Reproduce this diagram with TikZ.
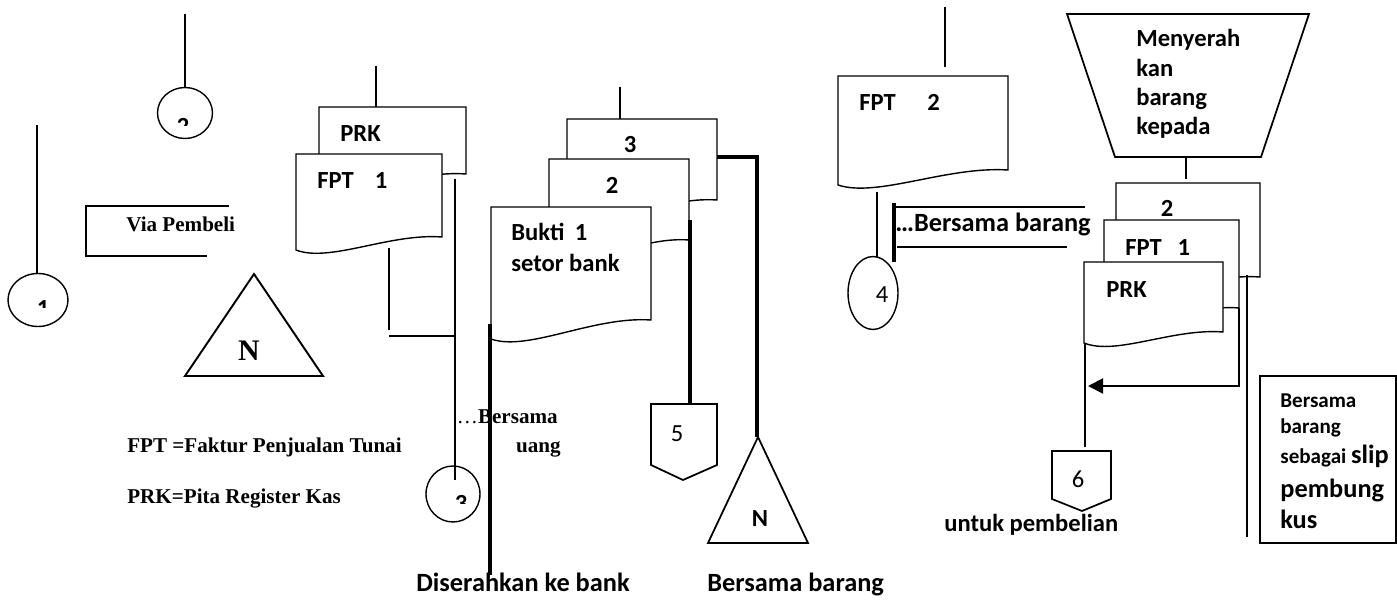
\documentclass[tikz,border=0pt]{standalone}
\usepackage{fontspec}
\setmainfont{Liberation Serif}
\newfontfamily\calibri{Carlito}
\usetikzlibrary{arrows.meta, shapes.geometric}

% document symbol: left, top, right, left bottom, right bottom
\newcommand{\docpath}[5]{%
  \draw[outline, fill=white] (#1,#4) -- (#1,#2) -- (#3,#2) -- (#3,#5)
    .. controls ({#1+0.64*(#3-#1)},{#5-4}) and ({#1+0.23*(#3-#1)},{#4+13}) .. (#1,#4) -- cycle;}
% connector digit, only its top shows
\newcommand{\cutdigit}[4]{%
  \begin{scope}
    \clip (#2-12,#3-1) rectangle (#2+12,#3+8);
    \node[lbl, anchor=north] (#1) at (#2,#3) {#4};
  \end{scope}}

\begin{document}
\begin{tikzpicture}[
  x=0.02cm, y=-0.02cm,
  >={Triangle[length=3mm, width=3mm]},
  outline/.style={line width=0.8pt},
  wire/.style={line width=1.1pt},
  heavy/.style={line width=2pt},
  lbl/.style={font=\calibri\bfseries\fontsize{14}{17}\selectfont, inner sep=0pt},
  lblsm/.style={font=\calibri\bfseries\fontsize{12}{14}\selectfont, inner sep=0pt},
  lblbig/.style={font=\calibri\bfseries\fontsize{15}{18}\selectfont, inner sep=0pt},
  tms/.style={font=\bfseries\fontsize{12}{14}\selectfont, inner sep=0pt},
  digit/.style={font=\calibri\fontsize{14}{17}\selectfont, inner sep=0pt},
  conn/.style={draw, ellipse, outline, inner sep=0pt},
]
\useasboundingbox (0,0) rectangle (1397,601);

% left side
\node[conn, minimum width=1.2cm, minimum height=1.06cm] (c1) at (38,300) {};
\node[conn, minimum width=1.1cm, minimum height=1.02cm] (c2) at (185,113) {};
\coordinate (c1in) at (37,125);
\coordinate (c2in) at (185,14);
\draw[wire] (c1in) -- (c1in |- c1.north);
\draw[wire] (c2in) -- (c2.north);
\cutdigit{d1}{43}{300}{1}
\cutdigit{d2}{183}{118}{2}

\draw[wire] (229,206) -- (86,206) -- (86,256) -- (207,256);
\node[tms, anchor=base west] (via) at (126,232) {Via Pembeli};

\draw[outline, line width=1.1pt] (254,274) -- (185,376) -- (323,376) -- cycle;
\node[tms, font=\bfseries\fontsize{17}{20}\selectfont, anchor=base] (nl) at (249,360) {N};

\node[tms, anchor=base west] (key1) at (127,452) {FPT =Faktur Penjualan Tunai};
\node[tms, anchor=base west] (key2) at (127,503) {PRK=Pita Register Kas};

% PRK / FPT 1
\draw[wire] (376,66) -- (376,107);
\docpath{319}{107}{466}{187}{174}
\docpath{296}{154}{442}{250}{237}
\node[lbl, anchor=base west] (prk) at (340,142) {PRK};
\node[lbl, anchor=base west] (fpt1) at (317,189) {FPT\hspace{12pt}1};

\draw[wire] (389,248) -- (389,330);
\draw[wire] (389,336) -- (455,336);
\draw[wire] (455,179) -- (455,480);
\node[conn, minimum width=1.08cm, minimum height=1.12cm] (c3) at (453,494) {};
\cutdigit{d3}{461}{495}{3}

\node[tms, anchor=base east] (uang1) at (558,423) {\normalfont\fontsize{12}{14}\selectfont…\bfseries Bersama};
\node[tms, anchor=base east] (uang2) at (561,452) {uang};

% Bukti setor bank
\draw[wire] (620,87) -- (620,119);
\docpath{567}{119}{717}{219}{200}
\docpath{549}{159}{689}{259}{240}
\docpath{491}{207}{651}{339}{320}
\node[lbl, anchor=base] (b3) at (630,153) {3};
\node[lbl, anchor=base] (b2) at (612,194) {2};
\node[lbl, anchor=base west] (b1) at (511,241) {Bukti\hspace{6pt}1};
\node[lbl, anchor=base west] (b1b) at (511,272) {setor bank};

\draw[heavy] (490,324) -- (490,575);
\node[lblbig, anchor=base west] (bank) at (416,591) {Diserahkan ke bank};

\draw[heavy] (690,220) -- (690,404);
\draw[outline, line width=1pt] (651,404) -- (717,404) -- (717,465) -- (683,480) -- (651,465) -- cycle;
\node[digit, anchor=base] (n5) at (677,441) {5};

\draw[heavy] (717,157) -- (757,157) -- (757,437);
\draw[outline, line width=1pt] (758,437) -- (708,543) -- (808,543) -- cycle;
\node[lbl, anchor=base] (nr) at (760,526) {N};
\node[lblbig, anchor=base west] (brg) at (707,591) {Bersama barang};

% FPT 2
\draw[wire] (945,7) -- (945,67);
\docpath{838}{76}{1008}{185}{170}
\node[lbl, anchor=base west] (fpt2) at (859,111) {FPT\hspace{18pt}2};
\node[conn, minimum width=1.0cm, minimum height=1.46cm] (c4) at (873,293) {};
\draw[wire] (877,192) -- (877,257);
\node[digit, anchor=base] (d4) at (882,303) {4};

\draw[heavy] (894,203) -- (894,262);
\draw[wire] (894,207) -- (1085,207);
\draw[wire] (897,247) -- (1067,247);
\node[lblbig, anchor=base west] (brg2) at (895,232) {…Bersama barang};

% manual operation and copies
\draw[outline, line width=1pt] (1067,14) -- (1309,14) -- (1261,157) -- (1115,157) -- cycle;
\node[lbl, anchor=base west] (serah) at (1136,47) {Menyerah};
\node[lbl, anchor=base west] (serah2) at (1136,77) {kan};
\node[lbl, anchor=base west] (serah3) at (1136,106) {barang};
\node[lbl, anchor=base west] (serah4) at (1136,135) {kepada};
\draw[wire] (1186,157) -- (1186,179);

\docpath{1116}{183}{1260}{290}{277}
\docpath{1104}{220}{1239}{321}{308}
\docpath{1084}{262}{1223}{343}{332}
\node[lbl, anchor=base] (r2) at (1167,217) {2};
\node[lbl, anchor=base west] (rfpt) at (1125,256) {FPT\hspace{9pt}1};
\node[lbl, anchor=base west] (rprk) at (1106,297) {PRK};

\draw[wire] (1085,343) -- (1085,447);
\draw[outline, line width=1pt] (1052,451) -- (1111,451) -- (1111,499) -- (1082,511) -- (1052,499) -- cycle;
\node[digit, anchor=base] (n6) at (1078,487) {6};
\node[lbl, anchor=base west] (beli) at (944,531) {untuk pembelian};

\coordinate (ar) at (1088,386);
\draw[wire, ->] (1239,308) -- (1239,386) -- (ar);
\draw[wire] (1247,275) -- (1247,537);

\draw[outline, line width=1pt] (1260,376) rectangle (1396,543);
\node[lblsm, anchor=base west] (s1) at (1280,407) {Bersama};
\node[lblsm, anchor=base west] (s2) at (1280,433) {barang};
\node[lblsm, anchor=base west] (s3) at (1280,463) {sebagai \fontsize{15}{18}\selectfont slip};
\node[lblbig, anchor=base west] (s4) at (1280,497) {pembung};
\node[lblbig, anchor=base west] (s5) at (1280,528) {kus};
\end{tikzpicture}
\end{document}
